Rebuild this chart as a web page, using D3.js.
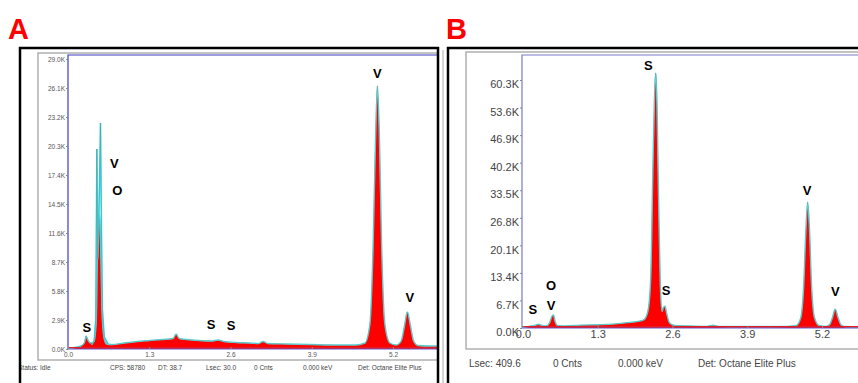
<!DOCTYPE html>
<html>
<head>
<meta charset="utf-8">
<script src="https://cdn.jsdelivr.net/npm/d3@7"></script>
<style>
  body { margin: 0; background: #fff; }
  svg { display: block; font-family: "Liberation Sans", Arial, sans-serif; }
</style>
</head>
<body>
<div id="chart"></div>
<script>
// axis ticks (keV and kilo-counts)
const xTicks = [0.0, 1.3, 2.6, 3.9, 5.2];
const yTicksA = [0, 2.9, 5.8, 8.7, 11.6, 14.5, 17.4, 20.3, 23.2, 26.1, 29.0];
const yTicksB = [0, 6.7, 13.4, 20.1, 26.8, 33.5, 40.2, 46.9, 53.6, 60.3];

// panel A spectrum (red fill)
const energyA = [0.00, 0.10, 0.20, 0.26, 0.29, 0.32, 0.36, 0.41, 0.45, 0.47, 0.49, 0.51, 0.53, 0.55, 0.58, 0.62, 0.70, 0.90,
  1.10, 1.30, 1.50, 1.68, 1.73, 1.78, 1.90, 2.10, 2.30, 2.40, 2.50, 2.70, 2.90, 3.05, 3.12, 3.20, 3.50, 3.90, 4.30, 4.60,
  4.75, 4.83, 4.88, 4.92, 4.95, 4.98, 5.02, 5.07, 5.15, 5.25, 5.33, 5.38, 5.43, 5.48, 5.53, 5.60, 5.80, 6.00];
const countsA = [0.05, 0.15, 0.3, 0.6, 1.3, 0.9, 0.6, 0.7, 2.5, 9, 13.5, 13, 8, 3, 1, 0.5, 0.45, 0.6,
  0.75, 0.85, 0.95, 1.05, 1.5, 1.05, 0.95, 0.85, 0.8, 0.9, 0.75, 0.65, 0.6, 0.55, 0.75, 0.55, 0.5, 0.45, 0.4, 0.4,
  0.6, 2.5, 10, 21, 26.3, 22, 10, 2.5, 0.6, 0.4, 0.8, 2.2, 3.7, 2.3, 0.8, 0.35, 0.3, 0.3];

// panel A second trace (cyan) around the O/V L peak
const energyA2 = [0.38, 0.42, 0.445, 0.462, 0.475, 0.49, 0.505, 0.52, 0.535, 0.55, 0.58, 0.64];
const countsA2 = [0.4, 0.9, 3, 20.0, 9, 12, 17, 22.6, 12, 4, 1.2, 0.5];

// panel B spectrum (red fill)
const energyB = [0.00, 0.10, 0.20, 0.27, 0.33, 0.40, 0.46, 0.50, 0.53, 0.56, 0.60, 0.70, 1.00, 1.30, 1.60, 1.80, 2.00,
  2.10, 2.17, 2.22, 2.26, 2.29, 2.31, 2.33, 2.36, 2.39, 2.42, 2.44, 2.47, 2.50, 2.55, 2.65, 2.90, 3.20, 3.30, 3.40, 3.70,
  4.20, 4.60, 4.75, 4.83, 4.88, 4.92, 4.95, 4.98, 5.02, 5.07, 5.15, 5.25, 5.33, 5.38, 5.43, 5.48, 5.53, 5.60, 5.80, 6.00];
const countsB = [0.1, 0.4, 0.6, 0.9, 0.6, 0.5, 1.2, 2.8, 3.2, 1.5, 0.6, 0.5, 0.7, 0.8, 1.0, 1.3, 1.6,
  2.0, 4, 12, 40, 58, 62, 55, 30, 10, 4, 5, 5.3, 3.5, 1.2, 0.6, 0.5, 0.4, 0.7, 0.4, 0.35,
  0.35, 0.4, 0.6, 2.5, 10, 24, 30.6, 25, 10, 2.5, 0.6, 0.4, 0.8, 2.5, 4.6, 2.5, 0.8, 0.35, 0.3, 0.3];

// element labels: text, keV, kilo-counts (baseline)
const labelsA = [
  { t: "V", e: 4.95, c: 27.1 }, { t: "V", e: 5.47, c: 4.7 },
  { t: "V", e: 0.74, c: 18.1 }, { t: "O", e: 0.79, c: 15.4 },
  { t: "S", e: 0.30, c: 1.7 }, { t: "S", e: 2.29, c: 2.0 }, { t: "S", e: 2.61, c: 1.9 }
];
const labelsB = [
  { t: "S", e: 2.18, c: 62.7 }, { t: "S", e: 2.49, c: 8.0 },
  { t: "V", e: 4.94, c: 32.3 }, { t: "V", e: 5.43, c: 7.8 },
  { t: "S", e: 0.17, c: 3.4 }, { t: "O", e: 0.49, c: 9.2 }, { t: "V", e: 0.49, c: 4.4 }
];

const statusA = ["Status: Idle", "CPS: 58780", "DT: 38.7", "Lsec: 30.0", "0 Cnts", "0.000 keV", "Det: Octane Elite Plus"];
const statusB = ["Lsec: 409.6", "0 Cnts", "0.000 keV", "Det: Octane Elite Plus"];

const W = 858, H = 383;
const svg = d3.select('#chart').append('svg').attr('width', W).attr('height', H);
const defs = svg.append('defs');

function panel(o) {
  defs.append('clipPath').attr('id', o.id + '-clip')
    .append('rect').attr('x', o.box[0]).attr('y', o.box[1]).attr('width', o.box[2]).attr('height', o.box[3]);
  defs.append('clipPath').attr('id', o.id + '-plot')
    .append('rect').attr('x', o.left).attr('y', o.top).attr('width', o.box[0] + o.box[2] - o.left).attr('height', o.bottom - o.top + 2);

  const g = svg.append('g').attr('clip-path', `url(#${o.id}-clip)`);
  const x = d3.scaleLinear().domain([0, 5.2]).range([o.x0, o.x52]);
  const y = d3.scaleLinear().domain([0, o.yTop]).range([o.bottom, o.yTopPx]);

  // grey window frame
  g.append('rect').attr('x', o.gray[0]).attr('y', o.gray[1]).attr('width', 900).attr('height', o.gray[2] - o.gray[1])
    .attr('fill', 'none').attr('stroke', '#b0b0b0').attr('stroke-width', 1.5);

  const pg = g.append('g').attr('clip-path', `url(#${o.id}-plot)`);

  // spectrum fill
  const pts = o.energy.map((e, i) => [e, o.counts[i]]);
  const area = d3.area().curve(d3.curveMonotoneX).x(d => x(d[0])).y0(o.bottom).y1(d => y(d[1]));
  const line = d3.line().curve(d3.curveMonotoneX).x(d => x(d[0])).y(d => y(d[1]));
  pg.append('path').datum(pts).attr('d', area).attr('fill', '#ff0000');
  pg.append('path').datum(pts).attr('d', line).attr('fill', 'none')
    .attr('stroke', '#5fe8e8').attr('stroke-width', 1.4);
  pg.append('path').datum(pts).attr('d', line).attr('fill', 'none')
    .attr('stroke', '#6a3a4a').attr('stroke-width', 0.6).attr('stroke-opacity', 0.4);

  if (o.energy2) {
    const p2 = o.energy2.map((e, i) => [e, o.counts2[i]]);
    const line2 = d3.line().x(d => x(d[0])).y(d => y(d[1]));
    pg.append('path').datum(p2).attr('d', line2).attr('fill', 'none')
      .attr('stroke', '#33e6f0').attr('stroke-width', 1.6);
    pg.append('path').datum(p2).attr('d', line2).attr('fill', 'none')
      .attr('stroke', '#777').attr('stroke-width', 0.7).attr('stroke-opacity', 0.6);
  }

  // baseline lines
  pg.append('line').attr('x1', o.left).attr('x2', 900).attr('y1', o.bottom - 1.5).attr('y2', o.bottom - 1.5)
    .attr('stroke', '#e02020').attr('stroke-width', 1);
  g.append('line').attr('x1', o.left).attr('x2', 900).attr('y1', o.bottom).attr('y2', o.bottom)
    .attr('stroke', '#6a5acd').attr('stroke-width', 1);

  // blue plot frame (left + top)
  g.append('path').attr('d', `M${o.left},${o.bottom}V${o.top}H900`)
    .attr('fill', 'none').attr('stroke', o.frameColor).attr('stroke-width', 1.2);

  // axes
  const ya = g.append('g').attr('transform', `translate(${o.left},0)`)
    .call(d3.axisLeft(y).tickValues(o.yTicks).tickSize(2).tickPadding(1).tickFormat(d => d3.format('.1f')(d) + 'K'));
  ya.select('.domain').remove();
  ya.selectAll('line').attr('stroke', '#888');
  ya.selectAll('text').attr('font-size', o.tickFont).attr('fill', o.tickColor).attr('dy', o.yLabDy)
    .attr('font-family', '"Liberation Sans", Arial, sans-serif');

  const xa = g.append('g').attr('transform', `translate(0,${o.bottom})`)
    .call(d3.axisBottom(x).tickValues(xTicks).tickSize(-2).tickPadding(o.xPad).tickFormat(d3.format('.1f')));
  xa.select('.domain').remove();
  xa.selectAll('line').attr('stroke', '#888');
  xa.selectAll('text').attr('font-size', o.tickFont).attr('fill', o.tickColor)
    .attr('font-family', '"Liberation Sans", Arial, sans-serif');

  // element labels
  g.selectAll('text.el').data(o.labels).enter().append('text').attr('class', 'el')
    .attr('x', d => x(d.e)).attr('y', d => y(d.c)).attr('text-anchor', 'middle')
    .attr('font-size', o.elFont).attr('font-weight', 'bold').attr('fill', '#000')
    .attr('font-family', 'Arial, "Liberation Sans", sans-serif').text(d => d.t);

  // status bar
  g.selectAll('text.st').data(o.status).enter().append('text').attr('class', 'st')
    .attr('x', (d, i) => o.statusX[i]).attr('y', o.statusY)
    .attr('font-size', o.statusFont).attr('fill', '#444').text(d => d);

  // outer black border
  svg.append('path').attr('d', `M${o.box[0]},${H + 5}V${o.box[1]}H${o.box[0] + o.box[2]}` + (o.rightEdge ? `V${H + 5}` : ''))
    .attr('fill', 'none').attr('stroke', '#000').attr('stroke-width', 2.5);

  // panel letter
  svg.append('text').attr('x', o.letterX).attr('y', 39).attr('font-size', 29).attr('font-weight', 'bold')
    .attr('fill', '#ff0000').attr('font-family', 'Arial, "Liberation Sans", sans-serif').text(o.letter);
}

panel({
  id: 'A', letter: 'A', letterX: 8,
  box: [20, 48, 418, 340], rightEdge: true,
  gray: [38, 53, 360],
  left: 68, top: 55, bottom: 349,
  x0: 68, x52: 393, yTop: 29.0, yTopPx: 59,
  yTicks: yTicksA, tickFont: 6.5, tickColor: '#555', yLabDy: '0.32em', xPad: 3,
  frameColor: '#3c3cc0',
  energy: energyA, counts: countsA, energy2: energyA2, counts2: countsA2,
  labels: labelsA, elFont: 13,
  status: statusA, statusX: [18, 110, 158, 206, 254, 303, 358], statusY: 370, statusFont: 6.5
});

panel({
  id: 'B', letter: 'B', letterX: 446,
  box: [448, 48, 420, 340], rightEdge: false,
  gray: [466, 52, 349],
  left: 522, top: 55, bottom: 328,
  x0: 523, x52: 822, yTop: 60.3, yTopPx: 80,
  yTicks: yTicksB, tickFont: 11, tickColor: '#444', yLabDy: '0.7em', xPad: 2,
  frameColor: '#7a78c8',
  energy: energyB, counts: countsB,
  labels: labelsB, elFont: 13,
  status: statusB, statusX: [469, 553, 618, 698], statusY: 367, statusFont: 10
});

// thin grey divider between the two panels
svg.append('line').attr('x1', 443).attr('x2', 443).attr('y1', 50).attr('y2', H)
  .attr('stroke', '#aaa').attr('stroke-width', 1);
</script>
</body>
</html>
